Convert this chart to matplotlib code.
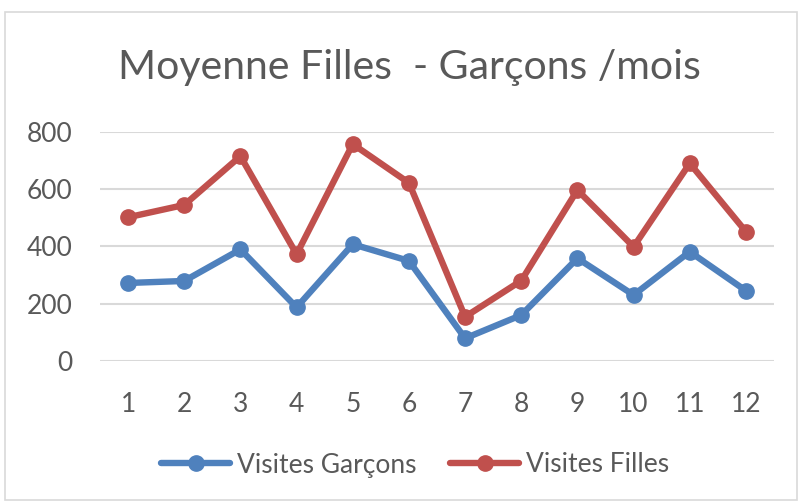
import matplotlib
matplotlib.use("Agg")
import matplotlib.pyplot as plt
from matplotlib.patches import Rectangle

months = [1, 2, 3, 4, 5, 6, 7, 8, 9, 10, 11, 12]
garcons = [272, 279, 389, 187, 407, 349, 79, 160, 358, 230, 381, 245]
filles = [501, 544, 714, 372, 756, 621, 154, 280, 596, 398, 689, 451]
yticks = [0, 200, 400, 600, 800]

plt.rcParams['font.family'] = ['Lato', 'DejaVu Sans']
txt = '#595959'

fig = plt.figure(figsize=(8, 5.03), dpi=100)
fig.patches.append(Rectangle((5/800, 3/503), 792/800, 488/503, transform=fig.transFigure,
                             fill=False, edgecolor='#d9d9d9', linewidth=1.2))
ax = fig.add_axes([100/800, 1 - 361/503, 674/800, 229.5/503])

blue = '#4F81BD'
red = '#C0504D'
ax.plot(months, garcons, color=blue, lw=4.6, marker='o', ms=11, label='Visites Garçons', solid_capstyle='round')
ax.plot(months, filles, color=red, lw=4.6, marker='o', ms=11, label='Visites Filles', solid_capstyle='round')

ax.set_xlim(0.5, 12.5)
ax.set_ylim(0, 800)
ax.set_yticks(yticks)
ax.set_xticks(months)
ax.grid(axis='y', color='#d9d9d9', lw=1.5)
ax.set_axisbelow(True)
for s in ax.spines.values():
    s.set_visible(False)
ax.tick_params(length=0, labelsize=19, colors=txt)
ax.tick_params(axis='y', pad=20)
ax.tick_params(axis='x', pad=22)

fig.text(0.512, 1 - 68/503, 'Moyenne Filles  - Garçons /mois', ha='center', va='center',
         fontsize=29.5, color=txt)

leg = fig.legend(loc='center', bbox_to_anchor=(415/800, 1 - 465/503), ncol=2, frameon=False,
                 fontsize=19, labelcolor=txt, handlelength=2.6, columnspacing=1.3, handletextpad=0.25)

fig.savefig('out.png', dpi=100)
